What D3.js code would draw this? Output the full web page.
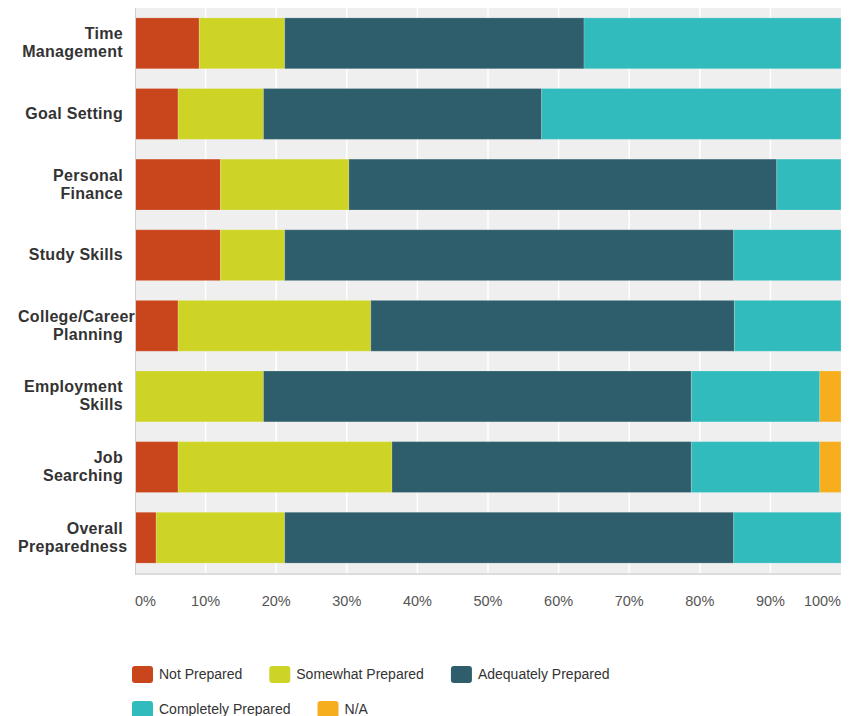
<!DOCTYPE html>
<html>
<head>
<meta charset="utf-8">
<script src="https://cdn.jsdelivr.net/npm/d3@7"></script>
<style>
    body { margin: 0; background: #fff; }
    text { font-family: "Liberation Sans", Arial, sans-serif; }
    .cat-label { font-weight: bold; font-size: 16px; letter-spacing: 0.3px; fill: #333; }
    .tick-label { font-size: 14.5px; fill: #555; }
    .legend-label { font-size: 14px; fill: #333; }
</style>
</head>
<body>
<div id="chart"></div>
<script>
var categories = [
    ["Time", "Management"],
    ["Goal Setting"],
    ["Personal", "Finance"],
    ["Study Skills"],
    ["College/Career", "Planning"],
    ["Employment", "Skills"],
    ["Job", "Searching"],
    ["Overall", "Preparedness"]
];
var seriesNames = ["Not Prepared", "Somewhat Prepared", "Adequately Prepared", "Completely Prepared", "N/A"];
var seriesColors = ["#c9451b", "#ced426", "#2e5e6b", "#32bbbd", "#f6ae1e"];

// percent per category, one array per series
var notPrepared        = [9.1, 6.1, 12.1, 12.1, 6.1, 0, 6.1, 3.0];
var somewhatPrepared   = [12.1, 12.1, 18.2, 9.1, 27.3, 18.2, 30.3, 18.2];
var adequatelyPrepared = [42.4, 39.4, 60.6, 63.6, 51.5, 60.6, 42.4, 63.6];
var completelyPrepared = [36.4, 42.4, 9.1, 15.2, 15.1, 18.2, 18.2, 15.2];
var notApplicable      = [0, 0, 0, 0, 0, 3.0, 3.0, 0];

var tickValues = [0, 10, 20, 30, 40, 50, 60, 70, 80, 90, 100];

function init() {
    var w = 852;
    var h = 716;
    var left = 135, right = 841, top = 8, bottom = 573;

    var svg = d3.select("#chart")
        .append("svg")
        .attr("width", w)
        .attr("height", h);

    var table = categories.map(function (c, i) {
        return {
            key: c.join(" "),
            lines: c,
            "Not Prepared": notPrepared[i],
            "Somewhat Prepared": somewhatPrepared[i],
            "Adequately Prepared": adequatelyPrepared[i],
            "Completely Prepared": completelyPrepared[i],
            "N/A": notApplicable[i]
        };
    });

    var xScale = d3.scaleLinear().domain([0, 100]).range([left, right]);
    var yScale = d3.scaleBand()
        .domain(table.map(function (d) { return d.key; }))
        .range([top, bottom])
        .paddingInner(0.28)
        .paddingOuter(0.14);
    var color = d3.scaleOrdinal().domain(seriesNames).range(seriesColors);

    // plot background
    svg.append("rect")
        .attr("x", left).attr("y", top)
        .attr("width", right - left).attr("height", bottom - top)
        .attr("fill", "#efefef");

    svg.append("line")
        .attr("x1", left).attr("x2", right)
        .attr("y1", bottom + 1).attr("y2", bottom + 1)
        .style("stroke", "#dcdcdc")
        .style("stroke-width", 2);

    // grid
    svg.append("g")
        .selectAll("line")
        .data(tickValues.slice(1, -1))
        .join("line")
        .attr("x1", function (d) { return xScale(d); })
        .attr("x2", function (d) { return xScale(d); })
        .attr("y1", top).attr("y2", bottom)
        .style("stroke", "#fff")
        .style("stroke-width", 1.5);

    var stack = d3.stack().keys(seriesNames);
    var layers = stack(table);

    svg.append("g")
        .selectAll("g")
        .data(layers)
        .join("g")
        .attr("fill", function (d) { return color(d.key); })
        .selectAll("rect")
        .data(function (d) { return d; })
        .join("rect")
        .attr("x", function (d) { return xScale(d[0]); })
        .attr("y", function (d) { return yScale(d.data.key); })
        .attr("width", function (d) { return Math.max(0, xScale(d[1]) - xScale(d[0])); })
        .attr("height", yScale.bandwidth())
        .style("stroke", "rgba(255,255,255,0.18)")
        .style("stroke-width", 1);

    // left axis line
    svg.append("line")
        .attr("x1", left + 0.5).attr("x2", left + 0.5)
        .attr("y1", top).attr("y2", bottom + 2)
        .style("stroke", "#cfcfcf");

    // x tick labels
    svg.append("g")
        .selectAll("text")
        .data(tickValues)
        .join("text")
        .attr("class", "tick-label")
        .attr("x", function (d) { return xScale(d); })
        .attr("y", 606)
        .attr("text-anchor", function (d, i) {
            return i === 0 ? "start" : (i === tickValues.length - 1 ? "end" : "middle");
        })
        .text(function (d) { return d + "%"; });

    // category labels
    var labelRight = 123, labelBox = 105, lineH = 18;
    var labels = svg.append("g")
        .selectAll("text")
        .data(table)
        .join("text")
        .attr("class", "cat-label")
        .attr("transform", function (d) {
            var cy = yScale(d.key) + yScale.bandwidth() / 2;
            return "translate(0," + (cy + 5 - (d.lines.length - 1) * lineH / 2) + ")";
        });
    labels.each(function (d) {
        var t = d3.select(this);
        d.lines.forEach(function (ln, i) {
            var s = t.append("tspan")
                .attr("x", labelRight)
                .attr("dy", i === 0 ? 0 : lineH)
                .attr("text-anchor", "end")
                .text(ln);
            var wd = s.node().getComputedTextLength();
            if (wd > labelBox) {
                s.attr("x", labelRight - labelBox).attr("text-anchor", "start");
            }
        });
    });

    // legend (flow layout)
    var legend = svg.append("g");
    var lx = 132, ly = 666, maxX = 735;
    seriesNames.forEach(function (name) {
        var g = legend.append("g");
        g.append("rect")
            .attr("width", 21).attr("height", 17)
            .attr("rx", 3)
            .attr("fill", color(name));
        var t = g.append("text")
            .attr("class", "legend-label")
            .attr("x", 27).attr("y", 13)
            .text(name);
        var itemW = 27 + t.node().getComputedTextLength();
        if (lx + itemW > maxX) {
            lx = 132;
            ly += 35;
        }
        g.attr("transform", "translate(" + lx + "," + ly + ")");
        lx += itemW + 27;
    });
}

window.onload = init;
</script>
</body>
</html>
